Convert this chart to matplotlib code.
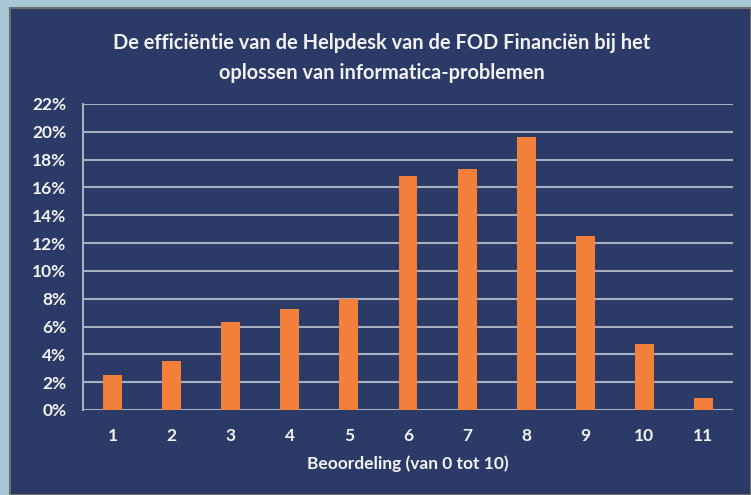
import matplotlib
matplotlib.use("Agg")
import matplotlib.pyplot as plt
from matplotlib.patches import Rectangle
from matplotlib.ticker import FuncFormatter

categories = ["1", "2", "3", "4", "5", "6", "7", "8", "9", "10", "11"]
values = [2.5, 3.55, 6.35, 7.25, 8.0, 16.8, 17.35, 19.6, 12.5, 4.75, 0.85]
yticks = [0, 2, 4, 6, 8, 10, 12, 14, 16, 18, 20, 22]

title = "De efficiëntie van de Helpdesk van de FOD Financiën bij het\noplossen van informatica-problemen"
xlabel = "Beoordeling (van 0 tot 10)"

navy = "#2B3A67"
outer = "#A7C6D6"
grid_c = "#A8AFC0"
bar_c = "#F27F3A"
txt_c = "#F2F2F2"

plt.rcParams['font.family'] = ['Lato', 'DejaVu Sans']
plt.rcParams['font.weight'] = 'bold'

fig = plt.figure(figsize=(7.51, 4.95), dpi=100)
fig.patch.set_facecolor(outer)
W, H = 751, 495
fig.patches.append(Rectangle((10 / W, 0), 1 - 10 / W, 1 - 8 / H, transform=fig.transFigure,
                             facecolor=navy, edgecolor="#6E6E6E", linewidth=1.5, zorder=0))

ax = fig.add_axes([83 / W, 1 - 410 / H, (733 - 83) / W, (410 - 104) / H])
ax.set_zorder(3)
ax.patch.set_alpha(0)
x = list(range(len(categories)))
ax.bar(x, values, width=0.32, color=bar_c, zorder=3)
ax.set_xlim(-0.5, len(categories) - 0.5)
ax.set_ylim(0, 22)
ax.set_yticks(yticks)
ax.yaxis.set_major_formatter(FuncFormatter(lambda v, p: f"{int(v)}%"))
ax.set_xticks(x)
ax.set_xticklabels(categories)
ax.grid(axis='y', color=grid_c, linewidth=1.5, zorder=1)
for s in ['top', 'right', 'bottom']:
    ax.spines[s].set_visible(False)
ax.spines['left'].set_color(grid_c)
ax.spines['left'].set_linewidth(1.5)
ax.tick_params(axis='both', length=0, colors=txt_c, labelsize=12.5)
ax.tick_params(axis='x', pad=13)
ax.tick_params(axis='y', pad=12)
for lab in ax.get_xticklabels() + ax.get_yticklabels():
    lab.set_fontweight('bold')
ax.set_xlabel(xlabel, color=txt_c, fontsize=12.5, fontweight='bold', labelpad=8)

t = fig.text(382 / W, 1 - 58 / H, title, ha='center', va='center', color=txt_c,
             fontsize=14.4, fontweight='bold', linespacing=1.6)
t.set_zorder(5)

fig.savefig("out.png", dpi=100, facecolor=fig.get_facecolor())
